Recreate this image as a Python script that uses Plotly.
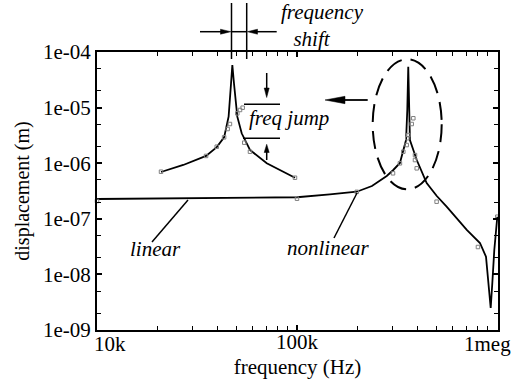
import math
import plotly.graph_objects as go

# ---------------- data ----------------
main_freq = [1.0e4, 3.27e4, 1.0e5, 1.46e5, 1.99e5, 2.37e5, 2.81e5, 3.03e5, 3.27e5,
             3.51e5, 3.56e5, 3.60e5, 3.63e5, 3.67e5, 3.97e5, 4.45e5, 5.0e5, 5.6e5,
             7.06e5, 8.22e5, 8.81e5, 9.09e5, 9.30e5, 9.475e5, 9.694e5, 1.0035e6]
main_disp = [2.27e-7, 2.35e-7, 2.44e-7, 2.74e-7, 3.07e-7, 3.89e-7, 5.89e-7, 7.55e-7, 1.01e-6,
             2.61e-6, 9.06e-6, 5.44e-5, 9.06e-6, 2.61e-6, 1.14e-6, 4.4e-7, 2.57e-7, 1.65e-7,
             6.3e-8, 3.67e-8, 2.08e-8, 7.0e-9, 2.49e-9, 7.0e-9, 2.75e-8, 1.09e-7]

main_meas_freq = [1.0e4, 1.0e5, 1.99e5, 3.02e5, 3.27e5, 3.40e5, 3.536e5, 3.56e5, 3.60e5,
                  3.746e5, 3.816e5, 3.89e5, 3.89e5, 3.968e5, 4.99e5, 8.03e5, 1.0035e6]
main_meas_disp = [2.09e-7, 2.3e-7, 3.05e-7, 6.58e-7, 9.95e-7, 1.61e-6, 2.12e-6, 2.81e-6, 3.21e-6,
                  5.07e-6, 6.43e-6, 1.40e-6, 1.14e-6, 8.09e-7, 2.03e-7, 3.11e-8, 1.09e-7]

inset_freq = [2.09e4, 2.70e4, 3.51e4, 3.97e4, 4.32e4, 4.55e4, 4.68e4, 4.75e4, 4.84e4,
              5.03e4, 5.29e4, 5.82e4, 7.06e4, 9.77e4]
inset_disp = [6.95e-7, 9.29e-7, 1.35e-6, 1.95e-6, 2.92e-6, 6.86e-6, 2.74e-5, 5.84e-5, 2.74e-5,
              6.86e-6, 3.45e-6, 1.73e-6, 9.95e-7, 5.48e-7]

inset_meas_freq = [2.09e4, 3.51e4, 3.97e4, 4.32e4, 4.50e4, 4.62e4, 5.03e4, 5.19e4, 5.35e4,
                   5.45e4, 5.82e4, 9.77e4]
inset_meas_disp = [7.03e-7, 1.35e-6, 1.98e-6, 2.92e-6, 4.12e-6, 5.07e-6, 7.88e-6, 9.06e-6, 9.96e-6,
                   2.34e-6, 1.61e-6, 5.48e-7]

NB = "\u00a0"
x_tick_vals = [1e4, 1e5, 1e6]
x_tick_text = ["10k", "100k", "1meg"]
y_tick_vals = [1e-9, 1e-8, 1e-7, 1e-6, 1e-5, 1e-4]
y_tick_text = ["1e-09", "1e-08", "1e-07", "1e-06", "1e-05", "1e-04"]
x_minor_vals = [m * 10 ** e for e in (4, 5) for m in range(2, 10)]
y_minor_vals = [m * 10.0 ** e for e in range(-9, -4) for m in (2, 5)]

# ---------------- figure ----------------
FONT = "Liberation Serif, Tinos, Times New Roman, serif"
TICKFONT = dict(family=FONT, size=21, color="black")
L, R, T, B = 97, 498, 52, 330


def px(x):
    return (x - L) / (R - L)


def py(y):
    return (B - y) / (B - T)


fig = go.Figure()
fig.add_trace(go.Scatter(x=main_freq, y=main_disp, mode="lines",
                         line=dict(color="black", width=1.8)))
fig.add_trace(go.Scatter(x=inset_freq, y=inset_disp, mode="lines",
                         line=dict(color="black", width=1.8)))
fig.add_trace(go.Scatter(x=main_meas_freq, y=main_meas_disp, mode="markers", cliponaxis=False,
                         marker=dict(symbol="square-open", size=3.5, color="#808080",
                                     line=dict(width=1, color="#808080"))))
fig.add_trace(go.Scatter(x=inset_meas_freq, y=inset_meas_disp, mode="markers", cliponaxis=False,
                         marker=dict(symbol="square-open", size=3.5, color="#808080",
                                     line=dict(width=1, color="#808080"))))

shapes = []


def line(x0, y0, x1, y1, w=1.5):
    shapes.append(dict(type="line", xref="paper", yref="paper",
                       x0=px(x0), y0=py(y0), x1=px(x1), y1=py(y1),
                       line=dict(color="black", width=w)))


def tri(pts):
    path = "M " + " L ".join(f"{px(a):.5f},{py(b):.5f}" for a, b in pts) + " Z"
    shapes.append(dict(type="path", xref="paper", yref="paper", path=path,
                       fillcolor="black", line=dict(color="black", width=0.5)))


# frequency shift markers
line(231.5, 3, 231.5, 59)
line(246.7, 3, 246.7, 59)
line(200, 31.7, 221, 31.7)
line(231.5, 31.7, 246.7, 31.7)
line(256, 31.7, 276.7, 31.7)
tri([(230.8, 31.7), (220.5, 29.2), (220.5, 34.2)])
tri([(247.4, 31.7), (257.5, 29.2), (257.5, 34.2)])

# freq jump markers
line(244, 104.3, 280, 104.3)
line(243, 138.3, 280, 138.3)
line(266.7, 73, 266.7, 89)
tri([(266.7, 97.5), (264.2, 88), (269.2, 88)])
line(266.7, 160, 266.7, 151)
tri([(266.7, 144.3), (264.2, 152.5), (269.2, 152.5)])

# big arrow
line(344, 100, 367.7, 100, w=1.8)
tri([(325, 100), (345, 96.3), (345, 103.7)])

# dashed ellipse
shapes.append(dict(type="circle", xref="paper", yref="paper",
                   x0=px(372.7), x1=px(441.7), y0=py(189.3), y1=py(59.3),
                   line=dict(color="black", width=2, dash="18px,9px")))

# label pointers
line(152, 242, 188, 200)
line(334, 238, 357, 193)

annotations = []


def text(s, x, y, size=21):
    annotations.append(dict(text=s, xref="paper", yref="paper", x=px(x), y=py(y),
                            xanchor="center", yanchor="middle", showarrow=False,
                            font=dict(family=FONT, size=size, color="black")))


text("<i>frequency<br>shift" + NB * 4 + "</i>", 322, 26)
text("<i>freq jump</i>", 288.5, 118)
text("<i>linear</i>", 155, 249)
text("<i>nonlinear</i>", 328, 248)

# end tick labels of the x axis, nudged inward like the original figure
annotations.append(dict(text=x_tick_text[0], xref="x", x=math.log10(x_tick_vals[0]),
                        xanchor="left", xshift=-5, yref="paper", y=py(344), yanchor="middle",
                        showarrow=False, font=TICKFONT))
annotations.append(dict(text=x_tick_text[2], xref="x", x=math.log10(x_tick_vals[2]),
                        xanchor="right", xshift=16, yref="paper", y=py(344), yanchor="middle",
                        showarrow=False, font=TICKFONT))

axis_common = dict(type="log", ticks="inside", ticklen=5, tickwidth=1.5, tickcolor="black",
                   showline=True, linecolor="black", linewidth=2, mirror="ticks",
                   showgrid=False, zeroline=False, tickfont=TICKFONT)

fig.update_layout(
    width=524, height=390,
    margin=dict(l=L, r=524 - R, t=T, b=390 - B, autoexpand=False),
    paper_bgcolor="white", plot_bgcolor="white",
    showlegend=False,
    font=dict(family=FONT, color="black"),
    xaxis=dict(axis_common, range=[4, 6.005], tickvals=x_tick_vals,
               ticktext=["", x_tick_text[1], ""],
               ticklabelstandoff=-8, automargin=False,
               minor=dict(tickvals=x_minor_vals, ticks="inside", ticklen=4, tickwidth=1,
                          tickcolor="black"),
               title=dict(text="frequency (Hz)", standoff=6,
                          font=dict(family=FONT, size=21, color="black"))),
    yaxis=dict(axis_common, range=[-9, -4], tickvals=y_tick_vals, ticktext=y_tick_text,
               minor=dict(tickvals=y_minor_vals, ticks="inside", ticklen=4, tickwidth=1,
                          tickcolor="black"),
               title=dict(text="displacement (m)", standoff=8,
                          font=dict(family=FONT, size=20, color="black"))),
    shapes=shapes,
    annotations=annotations,
)

fig.write_html("out.html")
